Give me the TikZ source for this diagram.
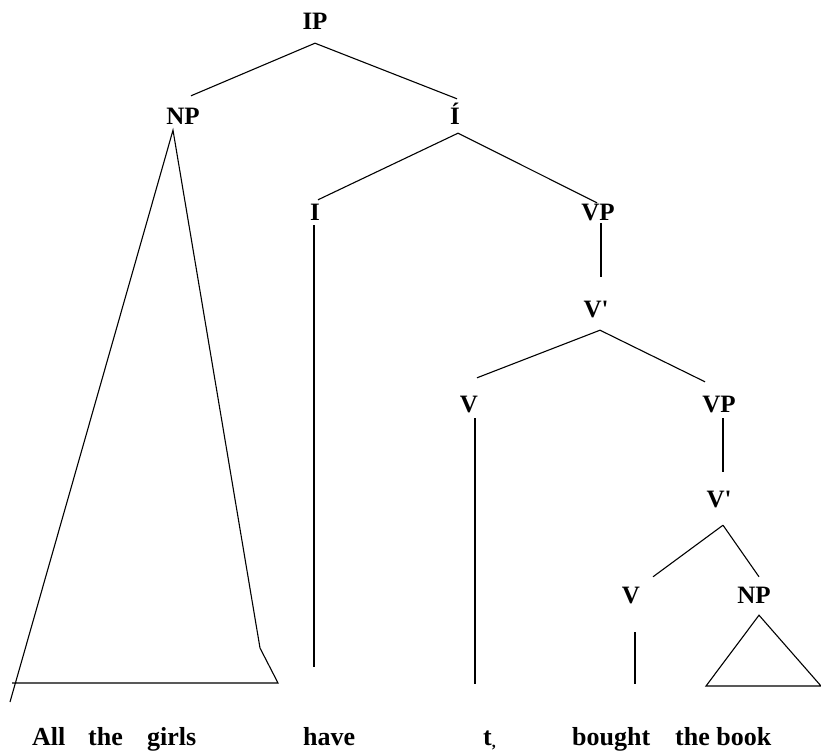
\documentclass[tikz,border=0pt]{standalone}
\usepackage{fontspec}
\setmainfont{Liberation Serif}
\usepackage{tikz}
\usetikzlibrary{calc}

\begin{document}
\begin{tikzpicture}[
    x=1pt, y=-1pt,
    cat/.style={font=\fontsize{25}{25}\selectfont\bfseries, inner sep=0pt, text height=16pt, text depth=0pt, anchor=base},
    word/.style={font=\fontsize{26}{26}\selectfont\bfseries, inner sep=0pt, anchor=base west},
    branch/.style={line width=1.1pt}
  ]
  \useasboundingbox (0,0) rectangle (821,751);
  % categories
  \node[cat] (ip)    at (315,30)  {IP};
  \node[cat] (np)    at (183,125) {NP};
  \node[cat] (ibar)  at (455,125) {Í};
  \node[cat] (i)     at (315,221) {I};
  \node[cat] (vp)    at (598,221) {VP};
  \node[cat] (vbar)  at (596,317) {V\textquotesingle};
  \node[cat] (v)     at (469,412) {V};
  \node[cat] (vpb)   at (719,412) {VP};
  \node[cat] (vbarb) at (719,507) {V\textquotesingle};
  \node[cat] (vb)    at (631,603) {V};
  \node[cat] (npb)   at (754,603) {NP};
  % words
  \node[word] (all)    at (32,745)  {All};
  \node[word] (the)    at (88,745)  {the};
  \node[word] (girls)  at (147,745) {girls};
  \node[word] (have)   at (303,745) {have};
  \node[word] (trace)  at (483,745) {t\raisebox{-2pt}{\fontsize{16}{16}\selectfont ,}};
  \node[word] (bought) at (572,745) {bought};
  \node[word] (book)   at (675,745) {the book};
  % branches
  \draw[branch] ($(ip.south)+(0,13)$) -- ($(np.north)+(8,-13)$);
  \draw[branch] ($(ip.south)+(0,13)$) -- ($(ibar.north)+(2,-10)$);
  \draw[branch] ($(ibar.south)+(3,8)$) -- ($(i.north)+(3,-5)$);
  \draw[branch] ($(ibar.south)+(3,8)$) -- ($(vp.north)+(-1,-2)$);
  \draw[branch] ($(vp.south)+(3,2)$) -- ($(vbar.north)+(5,-24)$);
  \draw[branch] ($(vbar.south)+(4,13)$) -- ($(v.north)+(8,-18)$);
  \draw[branch] ($(vbar.south)+(4,13)$) -- ($(vpb.north)+(-14,-14)$);
  \draw[branch] ($(vpb.south)+(4,6)$) -- ($(vbarb.north)+(4,-19)$);
  \draw[branch] ($(vbarb.south)+(4,18)$) -- ($(vb.north)+(22,-10)$);
  \draw[branch] ($(vbarb.south)+(4,18)$) -- ($(npb.north)+(5,-10)$);
  % lines down to the words
  \draw[branch] ($(i.south)+(-1,4)$) -- ++(0,442);
  \draw[branch] ($(v.south)+(6,6)$) -- ++(0,266);
  \draw[branch] ($(vb.south)+(4,29)$) -- ++(0,52);
  % triangles
  \coordinate (npend) at (10,702);
  \coordinate (npk)   at (260,648);
  \coordinate (npbr)  at (278,683);
  \coordinate (npbl)  at (12,683);
  \draw[branch] (npend) -- ($(np.south)+(-10,5)$) -- (npk) -- (npbr) -- (npbl);
  \coordinate (npbbl) at (706,686);
  \coordinate (npbbr) at (821,686);
  \draw[branch] ($(npb.south)+(5,12)$) -- (npbbl) -- (npbbr) -- cycle;
\end{tikzpicture}
\end{document}
